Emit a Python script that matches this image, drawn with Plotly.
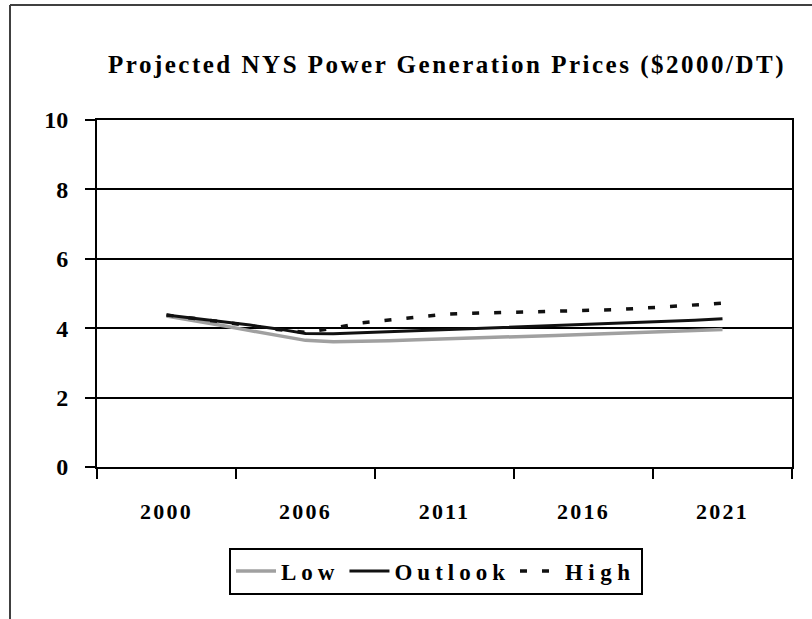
import plotly.graph_objects as go

# ---- data ----
tick_labels = ["2000", "2006", "2011", "2016", "2021"]
low = [4.35, 4.22, 4.08, 3.93, 3.78, 3.65, 3.61, 3.62, 3.64, 3.67, 3.69,
       3.72, 3.74, 3.76, 3.79, 3.82, 3.85, 3.87, 3.90, 3.93, 3.96]
outlook = [4.38, 4.29, 4.18, 4.09, 3.98, 3.85, 3.84, 3.87, 3.90, 3.93, 3.95,
           3.97, 4.00, 4.03, 4.06, 4.09, 4.12, 4.16, 4.20, 4.23, 4.27]
high = [4.38, 4.29, 4.18, 4.07, 3.96, 3.88, 4.00, 4.15, 4.24, 4.32, 4.40,
        4.43, 4.45, 4.46, 4.49, 4.50, 4.53, 4.57, 4.62, 4.66, 4.72]
y_ticks = [0, 2, 4, 6, 8, 10]

x = list(range(len(outlook)))
tickvals = x[::5]

FONT = "Liberation Serif"
W, H = 812, 619
L, R, T, B = 97, 20, 120, 152
PW, PH = W - L - R, H - T - B


def px_x(p):
    return (p - L) / PW


def px_y(p):
    return (H - B - p) / PH


def sp(text, ls):
    return f'<span style="letter-spacing:{ls}px">{text}</span>'


fig = go.Figure()
fig.add_trace(go.Scatter(x=x, y=low, mode="lines", name=sp("Low", 5),
                         line=dict(color="#a0a0a0", width=3.5)))
fig.add_trace(go.Scatter(x=x, y=outlook, mode="lines", name=sp("Outlook", 5),
                         line=dict(color="#111111", width=3)))
fig.add_trace(go.Scatter(x=x, y=high, mode="lines", name=sp("High", 5.5),
                         line=dict(color="#111111", width=3.5, dash="7px,15px")))

fig.update_layout(
    width=W, height=H,
    margin=dict(l=L, r=R, t=T, b=B),
    paper_bgcolor="white", plot_bgcolor="white",
    font=dict(family=FONT, color="black"),
    title=dict(text="<b>" + sp("Projected NYS Power Generation Prices ($2000/DT)", 2.5) + "</b>",
               font=dict(family=FONT, size=25, color="black"),
               xref="paper", x=px_x(447), xanchor="center",
               yref="container", y=1 - 64 / H, yanchor="middle"),
    xaxis=dict(range=[-2.5, 22.5], tickmode="array", tickvals=tickvals,
               ticktext=["<b>" + sp(t, 2.2) + "</b>" for t in tick_labels],
               ticks="", showgrid=False, zeroline=False,
               showline=True, linecolor="black", linewidth=2, mirror=True,
               tickfont=dict(family=FONT, size=22, color="black"),
               ticklabelstandoff=24,
               minor=dict(tickmode="linear", tick0=-2.5, dtick=5, ticks="outside",
                          ticklen=10, tickwidth=2, tickcolor="black", showgrid=False)),
    yaxis=dict(range=[0, 10], tickmode="array", tickvals=y_ticks,
               ticktext=["<b>" + str(v) + "</b>" for v in y_ticks],
               ticks="outside", ticklen=10, tickwidth=2, tickcolor="black",
               showgrid=True, gridcolor="black", gridwidth=1.5, zeroline=False,
               showline=True, linecolor="black", linewidth=2, mirror=True,
               tickfont=dict(family=FONT, size=24, color="black"),
               ticklabelstandoff=12),
    legend=dict(orientation="h", x=px_x(436), xanchor="center",
                y=px_y(571), yanchor="middle",
                bordercolor="black", borderwidth=2, bgcolor="white",
                font=dict(family=FONT, size=23, color="black", weight="bold"),
                itemwidth=40),
    showlegend=True,
    shapes=[
        dict(type="line", xref="paper", yref="paper",
             x0=px_x(10), x1=px_x(10), y0=px_y(5), y1=px_y(619),
             line=dict(color="#404040", width=2)),
        dict(type="line", xref="paper", yref="paper",
             x0=px_x(10), x1=px_x(812), y0=px_y(5), y1=px_y(5),
             line=dict(color="#404040", width=2)),
    ],
)

fig.write_html("out.html", config={"displayModeBar": False},
               post_script="document.body.style.margin='0';")
